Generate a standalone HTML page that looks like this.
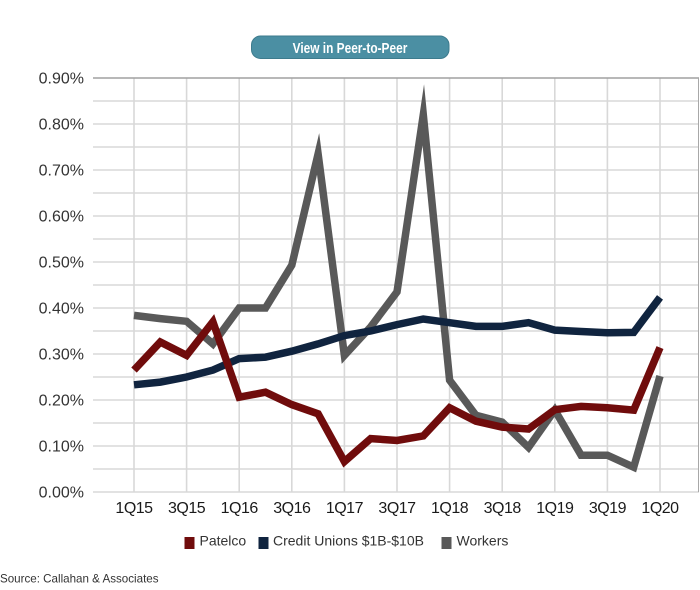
<!DOCTYPE html>
<html>
<head>
<meta charset="utf-8">
<style>
  html, body { margin: 0; padding: 0; background: #ffffff; }
  body { width: 700px; height: 590px; overflow: hidden; }
  svg { display: block; }
</style>
</head>
<body>
<svg width="700" height="590" viewBox="0 0 700 590" xmlns="http://www.w3.org/2000/svg">
  <rect x="0" y="0" width="700" height="590" fill="#ffffff"/>

  <!-- Button -->
  <rect x="251.5" y="36" width="197.5" height="22.5" rx="9" ry="9" fill="#4b8fa3" stroke="#3d7b8d" stroke-width="1"/>
  <text x="350" y="52.8" text-anchor="middle" fill="#ffffff" font-family="'Liberation Sans Narrow','Liberation Sans',sans-serif" font-weight="bold" font-size="14.5" transform="translate(350 0) scale(0.82 1) translate(-350 0)">View in Peer-to-Peer</text>

  <!-- Horizontal gridlines -->
  <g stroke="#e2e2e2" stroke-width="2">
    <line x1="93" y1="101" x2="699" y2="101"/>
    <line x1="93" y1="124" x2="699" y2="124"/>
    <line x1="93" y1="147" x2="699" y2="147"/>
    <line x1="93" y1="170" x2="699" y2="170"/>
    <line x1="93" y1="193" x2="699" y2="193"/>
    <line x1="93" y1="216" x2="699" y2="216"/>
    <line x1="93" y1="239" x2="699" y2="239"/>
    <line x1="93" y1="262" x2="699" y2="262"/>
    <line x1="93" y1="285" x2="699" y2="285"/>
    <line x1="93" y1="308" x2="699" y2="308"/>
    <line x1="93" y1="331" x2="699" y2="331"/>
    <line x1="93" y1="354" x2="699" y2="354"/>
    <line x1="93" y1="377" x2="699" y2="377"/>
    <line x1="93" y1="400" x2="699" y2="400"/>
    <line x1="93" y1="423" x2="699" y2="423"/>
    <line x1="93" y1="446" x2="699" y2="446"/>
    <line x1="93" y1="469" x2="699" y2="469"/>
    <line x1="93" y1="492" x2="699" y2="492"/>
  </g>

  <!-- Vertical gridlines -->
  <g stroke="#d8d8d8" stroke-width="1.6">
    <line x1="134" y1="78" x2="134" y2="492"/>
    <line x1="186.6" y1="78" x2="186.6" y2="492"/>
    <line x1="239.2" y1="78" x2="239.2" y2="492"/>
    <line x1="291.8" y1="78" x2="291.8" y2="492"/>
    <line x1="344.4" y1="78" x2="344.4" y2="492"/>
    <line x1="397" y1="78" x2="397" y2="492"/>
    <line x1="449.6" y1="78" x2="449.6" y2="492"/>
    <line x1="502.2" y1="78" x2="502.2" y2="492"/>
    <line x1="554.8" y1="78" x2="554.8" y2="492"/>
    <line x1="607.4" y1="78" x2="607.4" y2="492"/>
    <line x1="660" y1="78" x2="660" y2="492"/>
  </g>

  <!-- Top border and right border -->
  <line x1="93" y1="78" x2="699" y2="78" stroke="#a0a0a0" stroke-width="1.5"/>
  <line x1="698.5" y1="78" x2="698.5" y2="492" stroke="#a8a8a8" stroke-width="1"/>

  <!-- Y axis labels -->
  <g font-family="'Liberation Sans',sans-serif" font-size="16" fill="#333333" text-anchor="end">
    <text x="84" y="83.7">0.90%</text>
    <text x="84" y="129.7">0.80%</text>
    <text x="84" y="175.7">0.70%</text>
    <text x="84" y="221.7">0.60%</text>
    <text x="84" y="267.7">0.50%</text>
    <text x="84" y="313.7">0.40%</text>
    <text x="84" y="359.7">0.30%</text>
    <text x="84" y="405.7">0.20%</text>
    <text x="84" y="451.7">0.10%</text>
    <text x="84" y="497.7">0.00%</text>
  </g>

  <!-- X axis labels -->
  <g font-family="'Liberation Sans',sans-serif" font-size="16" letter-spacing="-0.5" fill="#1a1a1a" text-anchor="middle">
    <text x="134" y="513">1Q15</text>
    <text x="186.6" y="513">3Q15</text>
    <text x="239.2" y="513">1Q16</text>
    <text x="291.8" y="513">3Q16</text>
    <text x="344.4" y="513">1Q17</text>
    <text x="397" y="513">3Q17</text>
    <text x="449.6" y="513">1Q18</text>
    <text x="502.2" y="513">3Q18</text>
    <text x="554.8" y="513">1Q19</text>
    <text x="607.4" y="513">3Q19</text>
    <text x="660" y="513">1Q20</text>
  </g>

  <!-- Series: Workers (bottom) -->
  <polyline fill="none" stroke="#595959" stroke-width="7.5" stroke-linejoin="miter" stroke-miterlimit="12" stroke-linecap="butt"
    points="134,315.4 160.3,318.6 186.6,321.3 212.9,343.9 239.2,308 265.5,308 291.8,265.2 318.1,153.9 344.4,355.4 370.7,326.9 397,291.9 423.3,114.8 449.6,380.2 475.9,415.2 502.2,422.1 528.5,447.4 554.8,410.1 581.1,455.2 607.4,455.2 633.7,467.2 660,376.1"/>

  <!-- Series: Credit Unions $1B-$10B -->
  <polyline fill="none" stroke="#10243f" stroke-width="7.5" stroke-linejoin="miter" stroke-miterlimit="12" stroke-linecap="butt"
    points="134,384.8 160.3,382.1 186.6,377 212.9,370.1 239.2,358.6 265.5,357.2 291.8,351.2 318.1,343.9 344.4,335.6 370.7,331 397,324.6 423.3,319 449.6,322.7 475.9,326.4 502.2,326.4 528.5,322.7 554.8,330.1 581.1,331.5 607.4,332.8 633.7,332.4 660,297.4"/>

  <!-- Series: Patelco (top) -->
  <polyline fill="none" stroke="#700c0c" stroke-width="7.5" stroke-linejoin="miter" stroke-miterlimit="12" stroke-linecap="butt"
    points="134,370.1 160.3,342 186.6,355.4 212.9,321.8 239.2,397.2 265.5,392.2 291.8,404.6 318.1,413.8 344.4,461.6 370.7,438.6 397,440.5 423.3,435.9 449.6,407.8 475.9,421.2 502.2,427.1 528.5,429 554.8,409.7 581.1,406.4 607.4,407.8 633.7,410.1 660,347.6"/>

  <!-- Legend -->
  <rect x="184.5" y="537" width="10" height="12" fill="#700c0c"/>
  <rect x="258.5" y="537" width="10" height="12" fill="#10243f"/>
  <rect x="441.5" y="537" width="10" height="12" fill="#595959"/>
  <g font-family="'Liberation Sans',sans-serif" font-size="14" fill="#333333">
    <text x="199.5" y="545.5">Patelco</text>
    <text x="273" y="545.5">Credit Unions $1B-$10B</text>
    <text x="456.5" y="545.5">Workers</text>
  </g>

  <!-- Source -->
  <text x="0" y="582.5" font-family="'Liberation Sans',sans-serif" font-size="11.6" fill="#333333">Source: Callahan &amp; Associates</text>
</svg>
</body>
</html>
